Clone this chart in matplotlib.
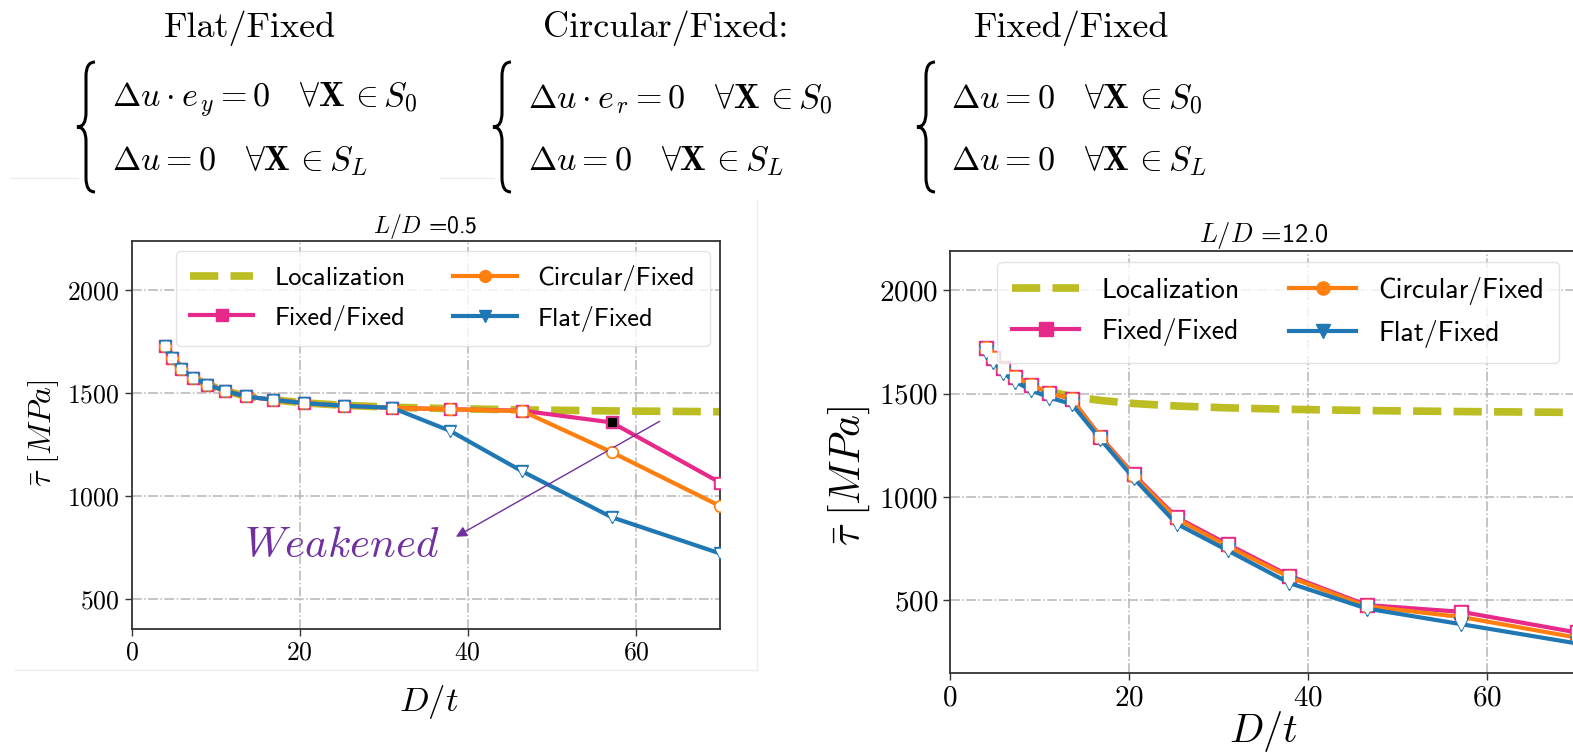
import numpy as np
import matplotlib.pyplot as plt
from matplotlib.path import Path
from matplotlib.patches import PathPatch
from matplotlib.lines import Line2D

plt.rcParams['font.family'] = 'cmr10'
plt.rcParams['mathtext.fontset'] = 'cm'
plt.rcParams['axes.formatter.use_mathtext'] = True

# D/t values (same for every series)
dt = [4.0, 4.85, 5.9, 7.3, 9.0, 11.1, 13.6, 16.8, 20.5, 25.3, 31.0, 37.9, 46.5, 57.1, 70.0]

# L/D = 0.5
loc_05 = [1729, 1672, 1618, 1574, 1541, 1511, 1485, 1467, 1452, 1440, 1431, 1424, 1418, 1413, 1409]
fixed_05 = [1729, 1672, 1618, 1574, 1541, 1511, 1483, 1467, 1451, 1438, 1428, 1421, 1414, 1357, 1065]
circ_05 = [1729, 1672, 1618, 1574, 1541, 1511, 1483, 1467, 1451, 1438, 1428, 1421, 1412, 1213, 951]
flat_05 = [1729, 1672, 1618, 1574, 1541, 1511, 1483, 1467, 1451, 1438, 1428, 1316, 1119, 897, 721]

# L/D = 12.0
loc_12 = [1729, 1672, 1618, 1574, 1541, 1511, 1487, 1468, 1453, 1441, 1432, 1425, 1419, 1414, 1410]
fixed_12 = [1723, 1675, 1624, 1579, 1542, 1506, 1474, 1292, 1110, 902, 772, 620, 478, 445, 345]
circ_12 = [1723, 1675, 1624, 1579, 1542, 1506, 1474, 1290, 1104, 895, 762, 613, 472, 420, 320]
flat_12 = [1704, 1656, 1603, 1559, 1518, 1482, 1450, 1280, 1092, 871, 742, 584, 461, 385, 292]

OLIVE = '#bcbd22'
PINK = '#e7298a'
ORANGE = '#ff7f0e'
BLUE = '#1f77b4'
PURPLE = '#7030a0'

W, H = 1573, 752
fig = plt.figure(figsize=(W / 100, H / 100), dpi=100)


def fx(x):
    return x / W


def fy(y):
    return 1 - y / H


def draw_panel(ax, loc, fixed, circ, flat, title, fs, tfs, lfs):
    l_loc, = ax.plot(dt, loc, ls='--', color=OLIVE, lw=5.5, label='Localization', zorder=2)
    handles = {}
    for y, c, m, name in [(fixed, PINK, 's', 'Fixed/Fixed'),
                          (circ, ORANGE, 'o', 'Circular/Fixed'),
                          (flat, BLUE, 'v', 'Flat/Fixed')]:
        h, = ax.plot(dt, y, color=c, lw=3, marker=m, ms=fs * 0.5, mfc=c, mec=c, label=name, zorder=3)
        ax.plot(dt, y, ls='none', marker=m, ms=fs * 0.5 - 2.5, mfc='white', mec='white', zorder=4)
        handles[name] = h
    ax.set_xlim(0, 70)
    ax.set_xticks([0, 20, 40, 60])
    ax.set_yticks([500, 1000, 1500, 2000])
    ax.grid(True, ls='-.', color='#b5b5b5', lw=1.1)
    ax.tick_params(labelsize=tfs, length=5, width=1, color='#333333')
    for s in ax.spines.values():
        s.set_color('#333333')
        s.set_linewidth(1.3)
    ax.set_title(title, fontfamily='cmss10', fontsize=fs, pad=5)
    leg = ax.legend(handles=[l_loc, handles['Fixed/Fixed'], handles['Circular/Fixed'], handles['Flat/Fixed']],
                    ncol=2, loc='upper left', bbox_to_anchor=(0.075, 0.975), borderaxespad=0,
                    prop={'family': 'cmss10', 'size': lfs}, handlelength=2.4,
                    columnspacing=1.8, labelspacing=0.55, borderpad=0.55, framealpha=0.8)
    leg.get_frame().set_edgecolor('#dddddd')
    return ax


# left panel, L/D = 0.5
axL = fig.add_axes([fx(131.5), fy(629), (720 - 131.5) / W, (629 - 241) / H])
draw_panel(axL, loc_05, fixed_05, circ_05, flat_05, r'$L/D$ =0.5', 17, 18.5, 19)
axL.set_ylim(354, 2238)
axL.plot(dt[13], fixed_05[13], 's', color='black', ms=6, zorder=5)
axL.set_xlabel(r'$D/t$', fontsize=25)
axL.set_ylabel(r'$\bar{\tau}\ [MPa]$', fontsize=23)
axL.xaxis.set_label_coords(0.505, -0.14)
axL.yaxis.set_label_coords(-0.12, 0.505)
axL.annotate('', xy=(38.3, 795), xytext=(63.1, 1369),
             arrowprops=dict(arrowstyle='-|>', color=PURPLE, lw=1, mutation_scale=16))
axL.text(25.0, 756, r'$Weakened$', color=PURPLE, fontsize=31, ha='center', va='center')

# right panel, L/D = 12.0
axR = fig.add_axes([fx(950), fy(673), (1577 - 950) / W, (673 - 251) / H])
draw_panel(axR, loc_12, fixed_12, circ_12, flat_12, r'$L/D$ =12.0', 19, 21, 20)
axR.set_ylim(149, 2191)
axR.set_xlabel(r'$D/t$', fontsize=29)
axR.set_ylabel(r'$\bar{\tau}\ [MPa]$', fontsize=30)
axR.xaxis.set_label_coords(0.5, -0.085)
axR.yaxis.set_label_coords(-0.125, 0.467)

# faint frame of the pasted left figure
for xs, ys in [((15, 757), (670, 670)), ((757, 757), (200, 670)), ((10, 78), (178, 178)),
               ((440, 494), (178, 178))]:
    fig.add_artist(Line2D([fx(v) for v in xs], [fy(v) for v in ys], color='#ececec', lw=1))


def brace(xc, ytop, ybot, w=9, r=14):
    ym = (ytop + ybot) / 2
    pts = [(xc + w, ytop), (xc, ytop), (xc, ytop + r),
           (xc, ym - r), (xc, ym), (xc - w, ym),
           (xc, ym), (xc, ym + r),
           (xc, ybot - r), (xc, ybot), (xc + w, ybot)]
    codes = [Path.MOVETO, Path.CURVE3, Path.CURVE3,
             Path.LINETO, Path.CURVE3, Path.CURVE3,
             Path.CURVE3, Path.CURVE3,
             Path.LINETO, Path.CURVE3, Path.CURVE3]
    path = Path([(fx(a), fy(b)) for a, b in pts], codes)
    fig.add_artist(PathPatch(path, fill=False, lw=2.2, color='black', transform=fig.transFigure))


headers = ['Flat/Fixed', 'Circular/Fixed:', 'Fixed/Fixed']
header_x = [250, 666, 1072]
eq_first = [r'$\Delta u\cdot e_{\,y}=0\quad\forall\mathbf{X}\,\in S_0$',
            r'$\Delta u\cdot e_{\,r}=0\quad\forall\mathbf{X}\,\in S_0$',
            r'$\Delta u=\mathbf{0}\quad\forall\mathbf{X}\,\in S_0$']
eq_second = [r'$\Delta u=\mathbf{0}\quad\forall\mathbf{X}\,\in S_L$'] * 3
eq_x = [112, 528, 951]
brace_x = [86, 502, 926]

for i in range(3):
    fig.text(fx(header_x[i]), fy(28), headers[i], ha='center', va='center', fontsize=26)
    fig.text(fx(eq_x[i]), fy(100), eq_first[i], ha='left', va='center', fontsize=24.5)
    fig.text(fx(eq_x[i]), fy(161), eq_second[i], ha='left', va='center', fontsize=24.5)
    brace(brace_x[i], 62, 192)

fig.savefig('out.png', dpi=100)
